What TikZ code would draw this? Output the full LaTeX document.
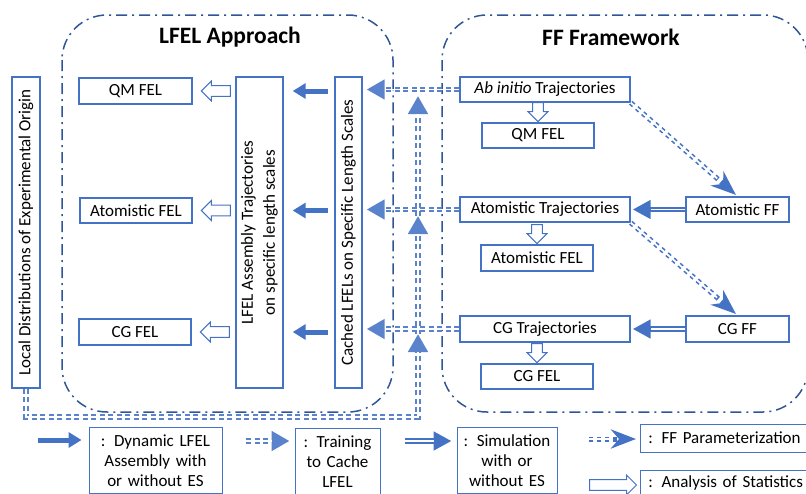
\documentclass[tikz,border=0pt]{standalone}
\usepackage{fontspec}
\setmainfont{Carlito}
\usepackage{graphicx}
\usetikzlibrary{arrows.meta,shapes.arrows}

\definecolor{boxblue}{HTML}{4472C4}
\definecolor{frameblue}{HTML}{2F5597}
\definecolor{trainblue}{HTML}{5A83CC}

\begin{document}
\begin{tikzpicture}[x=1pt,y=-1pt,
  box/.style={draw=boxblue,line width=1.4pt,fill=white,inner sep=0pt,
    font=\fontsize{17}{20}\selectfont},
  legendbox/.style={draw=boxblue,line width=.9pt,fill=white,anchor=north,
    inner xsep=4pt,inner ysep=7pt,align=center,font=\fontsize{17}{20}\selectfont},
  group/.style={draw=frameblue,line width=1.5pt,rounded corners=45pt,
    dash pattern=on 11pt off 5pt on 2pt off 5pt},
  title/.style={font=\fontsize{23.5}{26}\selectfont\bfseries},
  dynamic/.style={draw=boxblue,line width=5pt,-{Triangle[length=13pt,width=15pt]}},
  training/.style={draw=trainblue,line width=5.5pt,dash pattern=on 5pt off 3.5pt,
    shorten >=#1,-{Triangle[length=18pt,width=19pt]},
    postaction={draw=white,line width=1.8pt,solid,-,shorten >=#1+18pt}},
  training/.default=0pt,
  simulation/.style={draw=boxblue,line width=5.5pt,shorten >=#1,
    -{Triangle[length=18pt,width=18pt]},
    postaction={draw=white,line width=1.8pt,-,shorten >=#1+18pt}},
  simulation/.default=0pt,
  fitting/.style={draw=boxblue,line width=5pt,dash pattern=on 4pt off 4pt,
    shorten >=#1,-{Stealth[length=25pt,width=19pt,inset=8pt]},
    postaction={draw=white,line width=1.8pt,solid,-,shorten >=#1+25pt}},
  fitting/.default=0pt,
  hollow/.style={single arrow,draw=boxblue,line width=1pt,fill=white,
    inner sep=4.8pt,single arrow head extend=4.6pt}]
  \useasboundingbox (0,0) rectangle (806,493);
  \clip (0,0) rectangle (806,493);
  % Dash-dotted group frames and their titles.
  \draw[group] (62,15) rectangle (393,412);
  \draw[group] (442,15) rectangle (808,412);
  \node[title] (lfeltitle) at (230,37) {LFEL Approach};
  \node[title] (fftitle) at (611,37) {FF Framework};
  % Experimental input on the far left.
  \node[box,minimum width=28pt,minimum height=311pt] (local) at (26,232.5)
    {\rotatebox{90}{Local Distributions of Experimental Origin}};
  % LFEL approach column.
  \node[box,minimum width=113pt,minimum height=26pt] (qmL) at (135.5,91) {QM FEL};
  \node[box,minimum width=112pt,minimum height=25pt] (atL) at (136,210.5) {Atomistic FEL};
  \node[box,minimum width=112pt,minimum height=26pt] (cgL) at (135,332) {CG FEL};
  \node[box,minimum width=47pt,minimum height=311pt] (asm) at (259.5,232.5)
    {\rotatebox{90}{\renewcommand\arraystretch{1.1}\begin{tabular}{@{}c@{}}LFEL Assembly Trajectories\\on specific length scales\end{tabular}}};
  \node[box,minimum width=27pt,minimum height=311pt] (cache) at (348.5,232.5)
    {\rotatebox{90}{Cached LFELs on Specific Length Scales}};
  % FF framework column.
  \node[box,minimum width=170pt,minimum height=25pt] (abinit) at (545,89.5) {\textit{Ab initio} Trajectories};
  \node[box,minimum width=112pt,minimum height=25pt] (qmR) at (538,135.5) {QM FEL};
  \node[box,minimum width=170pt,minimum height=25pt] (attraj) at (545,209.5) {Atomistic Trajectories};
  \node[box,minimum width=103pt,minimum height=25pt] (atff) at (737.5,209.5) {Atomistic FF};
  \node[box,minimum width=112pt,minimum height=26pt] (atR) at (537,258) {Atomistic FEL};
  \node[box,minimum width=170pt,minimum height=26pt] (cgtraj) at (545,329) {CG Trajectories};
  \node[box,minimum width=103pt,minimum height=26pt] (cgff) at (737.5,329) {CG FF};
  \node[box,minimum width=112pt,minimum height=25pt] (cgR) at (537,376.5) {CG FEL};
  % Training bus from the experimental box up to the cached LFELs.
  \coordinate (bus) at (418,417);
  \coordinate (up1) at (418,334);
  \coordinate (up2) at (418,216);
  \coordinate (up3) at (418,96);
  \draw[training] (local.south) |- (bus) -- (up1);
  \draw[training] (up1) -- (up2);
  \draw[training] (up2) -- (up3);
  \foreach \n in {abinit,attraj,cgtraj} {
    \draw[training=4pt] (\n.west) -- (\n.west -| cache.east);
  }
  % Assembly and analysis inside the LFEL approach.
  \foreach \n in {qmL,atL,cgL} {
    \draw[dynamic,shorten <=6pt,shorten >=9pt] (cache.west |- \n) -- (asm.east |- \n);
    \node[hollow,shape border rotate=180,minimum height=29pt,anchor=tip] (h\n) at ([xshift=8pt]\n.east) {};
  }
  % Simulation, parameterization and analysis inside the FF framework.
  \foreach \n in {qmR,atR,cgR} {
    \node[hollow,shape border rotate=270,minimum height=19pt,anchor=tip] (h\n) at (\n.north) {};
  }
  \draw[simulation=2pt] (atff.west) -- (attraj.east);
  \draw[simulation=2pt] (cgff.west) -- (cgtraj.east);
  \draw[fitting=2pt] (abinit.south east) -- (atff.north);
  \draw[fitting=2pt] (attraj.south east) -- (cgff.north);
  % Legend.
  \node[legendbox,text width=125pt] (legdyn) at (155.5,427) {: Dynamic LFEL\\Assembly with\\or without ES};
  \node[legendbox,text width=77pt] (legtrain) at (337.5,428) {: Training\\to Cache\\LFEL};
  \node[legendbox,text width=92pt] (legsim) at (507,427) {: Simulation\\with or\\without ES};
  \node[legendbox,anchor=west,text width=180pt,align=left,inner xsep=8pt,minimum height=28pt] (legfit) at (640,438) {: FF Parameterization};
  \node[legendbox,anchor=north west,text width=180pt,align=left,inner xsep=8pt,inner ysep=5pt] (legstat) at (640,470) {: Analysis of Statistics};
  \coordinate (kdyn) at (38,440);
  \coordinate (ktrain) at (246,441);
  \coordinate (ksim) at (405,441);
  \coordinate (kfit) at (589,439);
  \coordinate (kstat) at (589,485);
  \draw[dynamic,shorten >=7pt] (kdyn) -- (kdyn -| legdyn.west);
  \draw[training=5pt] (ktrain) -- (ktrain -| legtrain.west);
  \draw[simulation=5pt] (ksim) -- (ksim -| legsim.west);
  \draw[fitting=4pt] (kfit) -- (kfit -| legfit.west);
  \node[hollow,minimum height=47pt,anchor=tail] (hstat) at (kstat) {};
\end{tikzpicture}
\end{document}
